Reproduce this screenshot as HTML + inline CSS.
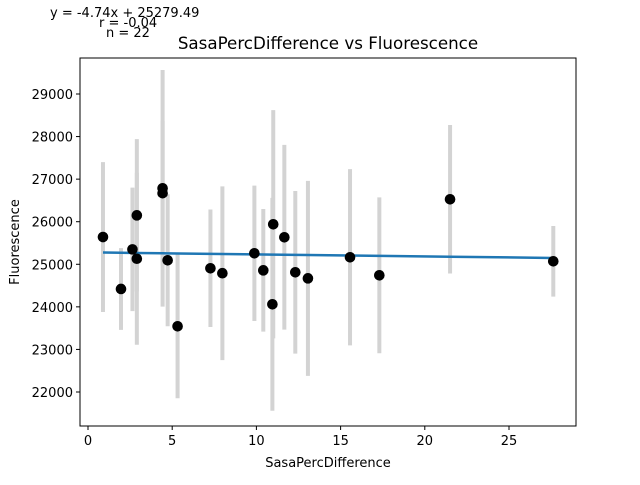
<!DOCTYPE html>
<html><head><meta charset="utf-8"><style>
body{margin:0;background:#fff;}
svg text{font-family:"DejaVu Sans","Liberation Sans",sans-serif;fill:#000;}
</style></head><body>
<svg id="chart" width="640" height="480" xmlns="http://www.w3.org/2000/svg">
<rect width="640" height="480" fill="#fff"/>
<text x="50" y="17" font-size="13">y = -4.74x + 25279.49</text>
<text x="99" y="27" font-size="13">r = -0.04</text>
<text x="106" y="37" font-size="13">n = 22</text>
<text x="328" y="49" font-size="16.7" text-anchor="middle">SasaPercDifference vs Fluorescence</text>
<g id="errs"></g><g id="line"></g><g id="pts"></g>
<rect x="80" y="58" width="496" height="368" fill="none" stroke="#000" stroke-width="1"/>
<g id="xt"></g><g id="yt"></g>
<text x="328" y="467" font-size="13" text-anchor="middle">SasaPercDifference</text>
<text transform="translate(19,242) rotate(-90)" font-size="13" text-anchor="middle">Fluorescence</text>
</svg>
<script>
const xs=[0.89,1.96,2.64,2.90,2.90,4.43,4.43,4.73,5.32,7.27,7.98,9.88,10.41,11.0,10.95,11.66,12.31,13.06,15.56,17.30,21.50,27.63];
const ys=[25640,24420,25350,25130,26150,26785,26670,25094,23543,24906,24790,25258,24858,25940,24060,25634,24812,24670,25164,24741,26527,25070];
const errs=[1760,960,1450,2020,1790,2780,1700,1550,1690,1380,2040,1590,1440,2680,2500,2170,1910,2290,2070,1830,1745,830];
const slope=-4.74, intercept=25279.49;
const xTicks=[0,5,10,15,20,25];
const yTicks=[22000,23000,24000,25000,26000,27000,28000,29000];
const NS="http://www.w3.org/2000/svg";
function X(v){return 88+v*16.84;}
function Y(v){return 94+(29000-v)*0.04257;}
function mk(t,a,p){const e=document.createElementNS(NS,t);for(const k in a)e.setAttribute(k,a[k]);document.getElementById(p).appendChild(e);return e;}
xs.forEach((x,i)=>{
 const l=mk('line',{x1:X(x),x2:X(x),y1:Y(ys[i]+errs[i]),y2:Y(ys[i]-errs[i]),stroke:'#d3d3d3','stroke-width':4},'errs');
 
 
});
const sx=xs.slice().sort((a,b)=>a-b);
const pl=mk('polyline',{points:sx.map(x=>X(x)+','+Y(slope*x+intercept)).join(' '),fill:'none',stroke:'#1f77b4','stroke-width':2.5},'line');


xs.forEach((x,i)=>{
 const c=mk('circle',{cx:X(x),cy:Y(ys[i]),r:5.3,fill:'#000'},'pts');
 
 
});
xTicks.forEach(t=>{
 const l=mk('line',{x1:X(t),x2:X(t),y1:426,y2:430,stroke:'#000'},'xt');
 
 
 const tx=mk('text',{x:X(t),y:445,'font-size':13,'text-anchor':'middle'},'xt');tx.textContent=t;
 
 
});
yTicks.forEach(t=>{
 const l=mk('line',{x1:76,x2:80,y1:Y(t),y2:Y(t),stroke:'#000'},'yt');
 
 
 const tx=mk('text',{x:73,y:Y(t)+5,'font-size':13,'text-anchor':'end'},'yt');tx.textContent=t;
 
 
});
</script>
</body></html>
